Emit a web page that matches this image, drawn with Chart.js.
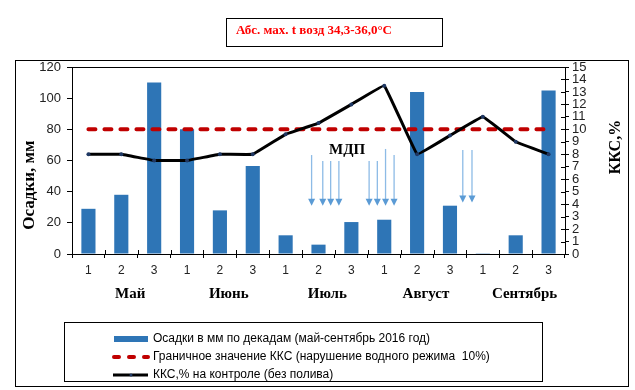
<!DOCTYPE html>
<html>
<head>
<meta charset="utf-8">
<script src="https://cdn.jsdelivr.net/npm/chart.js@4.4.1/dist/chart.umd.min.js"></script>
<style>
  html, body { margin: 0; padding: 0; background: #fff; }
  #wrap { position: relative; width: 635px; height: 390px; }
</style>
</head>
<body>
<div id="wrap"><canvas id="rainChart" width="635" height="390"></canvas></div>
<script>
// decades of each month, May - September 2016
const decades = ['1', '2', '3', '1', '2', '3', '1', '2', '3', '1', '2', '3', '1', '2', '3'];
const months = ['Май', 'Июнь', 'Июль', 'Август', 'Сентябрь'];

// precipitation, mm per decade
const precipitation = [29, 38, 110, 80, 28, 56.5, 12, 6, 20.5, 22, 104, 31, 0.5, 12, 105];
// KKS on control (no irrigation), %
const kks = [8, 8, 7.5, 7.5, 8, 8, 9.6, 10.5, 12, 13.5, 8, 9.5, 11, 9, 8];
// boundary value of KKS, %
const kksLimit = [10, 10, 10, 10, 10, 10, 10, 10, 10, 10, 10, 10, 10, 10, 10];

const legendLabels = [
    'Осадки в мм по декадам (май-сентябрь 2016 год)',
    'Граничное значение ККС (нарушение водного режима  10%)',
    'ККС,% на контроле (без полива)'
];

// MDP arrows: category position, top and tip in mm
const arrowX = [6.79, 7.13, 7.37, 7.62, 8.54, 8.79, 9.04, 9.30, 11.39, 11.67];
const arrowTop = [63.5, 59.7, 59.7, 59.7, 59.7, 59.7, 67.4, 63.5, 66.8, 66.8];
const arrowTip = [31, 31, 31, 31, 31, 31, 31, 31, 33, 33];

const serif = '"Liberation Serif", "Times New Roman", serif';
const sans = '"Liberation Sans", Arial, sans-serif';

const decorPlugin = {
    id: 'decor',
    afterDraw(chart) {
        const c = chart.ctx;
        const area = chart.chartArea;
        const x = chart.scales.x;
        const y = chart.scales.y;
        c.save();

        // outer frame
        c.strokeStyle = '#000';
        c.lineWidth = 1;
        c.strokeRect(15.5, 60.5, 613, 326);

        // top border of plot area
        c.beginPath();
        c.moveTo(area.left, area.top + 0.5);
        c.lineTo(area.right, area.top + 0.5);
        c.stroke();

        // inner halves of ticks (x and right axis)
        c.beginPath();
        for (let i = 0; i <= decades.length; i++) {
            const px = Math.round(x.getPixelForValue(i - 0.5)) + 0.5;
            c.moveTo(px, area.bottom);
            c.lineTo(px, area.bottom - 4);
        }
        const y1 = chart.scales.y1;
        y1.ticks.forEach(t => {
            const py = Math.round(y1.getPixelForValue(t.value)) + 0.5;
            c.moveTo(area.right, py);
            c.lineTo(area.right - 4, py);
        });
        c.stroke();

        // axis titles
        c.fillStyle = '#000';
        c.textAlign = 'center';
        c.textBaseline = 'middle';
        c.save();
        c.font = 'bold 17px ' + serif;
        c.translate(30, 185);
        c.rotate(-Math.PI / 2);
        c.fillText('Осадки, мм', 0, 0);
        c.restore();
        c.save();
        c.font = 'bold 16px ' + serif;
        c.translate(616, 147);
        c.rotate(-Math.PI / 2);
        c.fillText('ККС,%', 0, 0);
        c.restore();

        // month labels under decades
        c.font = 'bold 15px ' + serif;
        months.forEach((m, i) => {
            c.fillText(m, x.getPixelForValue(i * 3 + 1.27), 294);
        });

        // MDP arrows
        c.strokeStyle = '#8DBBE6';
        c.fillStyle = '#5B9BD5';
        c.lineWidth = 1.3;
        arrowX.forEach((v, i) => {
            const px = x.getPixelForValue(v);
            const top = y.getPixelForValue(arrowTop[i]);
            const tip = y.getPixelForValue(arrowTip[i]);
            c.beginPath();
            c.moveTo(px, top);
            c.lineTo(px, tip - 6);
            c.stroke();
            c.beginPath();
            c.moveTo(px - 3.5, tip - 7);
            c.lineTo(px + 3.5, tip - 7);
            c.lineTo(px, tip);
            c.closePath();
            c.fill();
        });
        c.fillStyle = '#000';
        c.font = 'bold 15px ' + serif;
        c.fillText('МДП', x.getPixelForValue(7.87), y.getPixelForValue(66.5));

        // title box
        c.strokeStyle = '#000';
        c.lineWidth = 1;
        c.strokeRect(226.5, 18.5, 216, 28);
        c.fillStyle = '#FF0000';
        c.font = 'bold 13px ' + serif;
        c.textAlign = 'left';
        c.fillText('Абс. мах. t возд 34,3-36,0°C', 236, 31);

        // legend
        c.strokeStyle = '#000';
        c.strokeRect(64.5, 322.5, 478, 59);
        const ds = chart.data.datasets;
        const rows = [339, 357, 375];
        c.font = '12px ' + sans;
        // bars
        c.fillStyle = ds[2].backgroundColor;
        c.fillRect(114, rows[0] - 3, 34, 6);
        // dashed limit
        c.strokeStyle = ds[1].borderColor;
        c.lineWidth = 4;
        c.lineCap = 'round';
        c.setLineDash([5, 10]);
        c.beginPath();
        c.moveTo(114, rows[1]);
        c.lineTo(148, rows[1]);
        c.stroke();
        c.setLineDash([]);
        c.lineCap = 'butt';
        // kks line
        c.strokeStyle = ds[0].borderColor;
        c.lineWidth = 3;
        c.beginPath();
        c.moveTo(113, rows[2]);
        c.lineTo(148, rows[2]);
        c.stroke();
        c.fillStyle = ds[0].pointBackgroundColor;
        c.beginPath();
        c.arc(131, rows[2], 1.5, 0, Math.PI * 2);
        c.fill();
        c.fillStyle = '#000';
        rows.forEach((r, i) => {
            c.fillText(legendLabels[i], 153, r);
        });

        c.restore();
    }
};

const ctx = document.getElementById('rainChart');

const chart = new Chart(ctx, {
    data: {
        labels: decades,
        datasets: [
            {
                type: 'line',
                label: legendLabels[2],
                data: kks,
                yAxisID: 'y1',
                borderColor: '#000',
                borderWidth: 3,
                borderJoinStyle: 'round',
                tension: 0.05,
                pointRadius: 2,
                pointBorderWidth: 0,
                pointBackgroundColor: '#1F3864',
                order: 0
            },
            {
                type: 'line',
                label: legendLabels[1],
                data: kksLimit,
                yAxisID: 'y1',
                borderColor: '#C00000',
                borderWidth: 4,
                borderDash: [7, 9],
                borderCapStyle: 'round',
                pointRadius: 0,
                order: 1
            },
            {
                type: 'bar',
                label: legendLabels[0],
                data: precipitation,
                yAxisID: 'y',
                backgroundColor: '#2E75B6',
                barPercentage: 0.43,
                categoryPercentage: 1,
                order: 2
            }
        ]
    },
    options: {
        responsive: false,
        animation: false,
        devicePixelRatio: 1,
        layout: { padding: { top: 67, left: 0, right: 0, bottom: 0 } },
        plugins: {
            legend: { display: false },
            tooltip: { enabled: false }
        },
        scales: {
            x: {
                offset: true,
                grid: { offset: true, drawOnChartArea: false, tickLength: 4, color: '#000' },
                border: { color: '#000' },
                ticks: {
                    font: { family: sans, size: 12 },
                    color: '#222',
                    padding: 5,
                    maxRotation: 0,
                    autoSkip: false
                },
                afterFit(s) { s.height = 136; }
            },
            y: {
                position: 'left',
                min: 0,
                max: 120,
                grid: { drawOnChartArea: false, tickLength: 5, color: '#000' },
                border: { color: '#000' },
                ticks: {
                    stepSize: 20,
                    font: { family: sans, size: 13 },
                    color: '#222',
                    padding: 6
                },
                afterFit(s) { s.width = 72; }
            },
            y1: {
                position: 'right',
                min: 0,
                max: 15,
                grid: { drawOnChartArea: false, tickLength: 4, color: '#000' },
                border: { color: '#000' },
                ticks: {
                    stepSize: 1,
                    autoSkip: false,
                    font: { family: sans, size: 13, lineHeight: 1 },
                    color: '#222',
                    padding: 3
                },
                afterFit(s) { s.width = 70; }
            }
        }
    },
    plugins: [decorPlugin]
});
</script>
</body>
</html>
